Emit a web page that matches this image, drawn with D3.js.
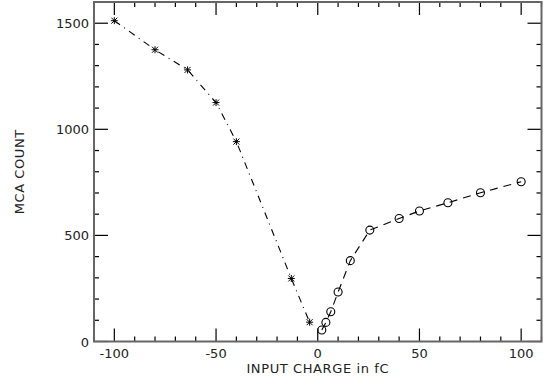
<!DOCTYPE html>
<html>
<head>
<meta charset="utf-8">
<script src="https://cdn.jsdelivr.net/npm/d3@7"></script>
<style>
  html, body { margin: 0; padding: 0; background: #fff; }
  svg { display: block; }
  text { font-family: "DejaVu Sans", sans-serif; fill: #222; }
</style>
</head>
<body>
<svg id="chart" width="548" height="382"></svg>
<script>
// negative input charge, asterisk markers
const negCharge = [-100, -80, -64, -50, -40, -13, -4];
const negCount = [1512, 1375, 1280, 1126, 942, 297, 91];

// positive input charge, circle markers
const posCharge = [2, 4, 6.4, 10, 16, 25.6, 40, 50, 64, 80, 100];
const posCount = [54, 90, 140, 233, 381, 525, 580, 615, 654, 701, 753];

const xMajor = [-100, -50, 0, 50, 100];
const yMajor = [0, 500, 1000, 1500];

const margin = { top: 2, right: 6.5, bottom: 40.5, left: 94 };
const width = 548, height = 382;

const svg = d3.select('#chart');

const x = d3.scaleLinear().domain([-110, 110]).range([margin.left, width - margin.right]);
const y = d3.scaleLinear().domain([0, 1600]).range([height - margin.bottom, margin.top]);

const x0 = x.range()[0], x1 = x.range()[1];
const y0 = y.range()[0], y1 = y.range()[1];

// ticks (inward on all four sides)
const xMinor = d3.range(-110, 111, 10).filter(v => !xMajor.includes(v));
const yMinor = d3.range(100, 1600, 100).filter(v => !yMajor.includes(v));
const ticks = svg.append('g').attr('stroke', '#000').attr('stroke-width', 1.2);

function xTick(v, len) {
  ticks.append('line').attr('x1', x(v)).attr('x2', x(v)).attr('y1', y0).attr('y2', y0 - len);
  ticks.append('line').attr('x1', x(v)).attr('x2', x(v)).attr('y1', y1).attr('y2', y1 + len);
}
function yTick(v, len) {
  ticks.append('line').attr('y1', y(v)).attr('y2', y(v)).attr('x1', x0).attr('x2', x0 + len);
  ticks.append('line').attr('y1', y(v)).attr('y2', y(v)).attr('x1', x1).attr('x2', x1 - len);
}
xMajor.forEach(v => xTick(v, 13));
xMinor.forEach(v => xTick(v, 5));
yMajor.forEach(v => yTick(v, 14));
yMinor.forEach(v => yTick(v, 5));

// frame
svg.append('rect')
  .attr('x', x0).attr('y', y1)
  .attr('width', x1 - x0).attr('height', y0 - y1)
  .attr('fill', 'none').attr('stroke', '#666').attr('stroke-width', 2);

// tick labels
svg.append('g').selectAll('text').data(xMajor).join('text')
  .attr('x', d => x(d)).attr('y', y0 + 16)
  .attr('text-anchor', 'middle').attr('font-size', 13)
  .text(d => d);

svg.append('g').selectAll('text').data(yMajor).join('text')
  .attr('x', x0 - 5).attr('y', d => y(d) + 5)
  .attr('text-anchor', 'end').attr('font-size', 13)
  .text(d => d);

// axis titles
svg.append('text')
  .attr('x', (x0 + x1) / 2).attr('y', 373)
  .attr('text-anchor', 'middle').attr('font-size', 13)
  .attr('letter-spacing', 0.6)
  .text('INPUT CHARGE in fC');

svg.append('text')
  .attr('transform', `translate(24,${(y0 + y1) / 2}) rotate(-90)`)
  .attr('text-anchor', 'middle').attr('font-size', 13)
  .attr('letter-spacing', 0.6)
  .text('MCA COUNT');

const line = d3.line().x(d => x(d[0])).y(d => y(d[1]));
const negData = negCharge.map((c, i) => [c, negCount[i]]);
const posData = posCharge.map((c, i) => [c, posCount[i]]);

svg.append('path').datum(negData)
  .attr('d', line).attr('fill', 'none')
  .attr('stroke', '#000').attr('stroke-width', 1.1)
  .attr('stroke-dasharray', '7,5,1,5');

svg.append('path').datum(posData)
  .attr('d', line).attr('fill', 'none')
  .attr('stroke', '#000').attr('stroke-width', 1.1)
  .attr('stroke-dasharray', '8,6');

// asterisk markers
const star = 'M-3.5,0H3.5M0,-3.5V3.5M-3,-3L3,3M-3,3L3,-3';
svg.append('g').selectAll('path').data(negData).join('path')
  .attr('transform', d => `translate(${x(d[0])},${y(d[1])})`)
  .attr('d', star).attr('stroke', '#000').attr('stroke-width', 1)
  .attr('fill', 'none');

// circle markers
svg.append('g').selectAll('circle').data(posData).join('circle')
  .attr('cx', d => x(d[0])).attr('cy', d => y(d[1])).attr('r', 4)
  .attr('fill', 'none').attr('stroke', '#000').attr('stroke-width', 1.1);
</script>
</body>
</html>
